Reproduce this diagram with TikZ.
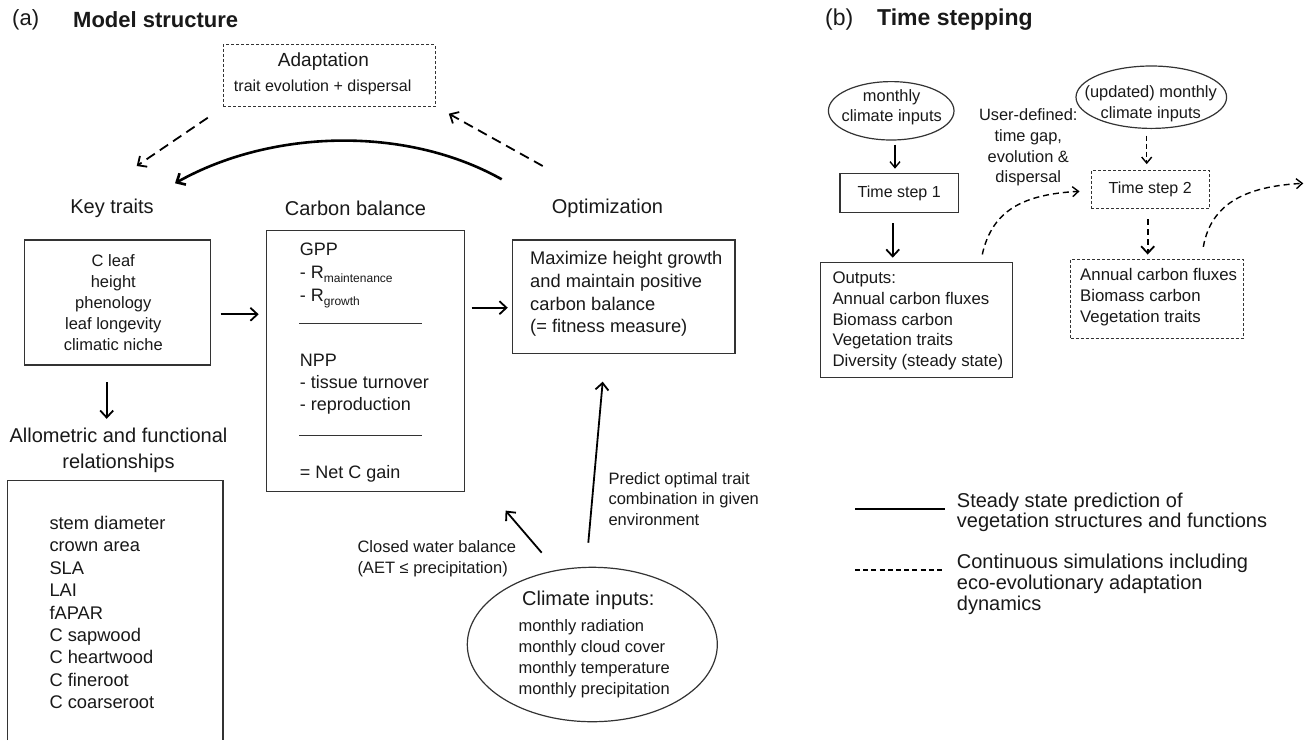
\documentclass[tikz,border=0pt]{standalone}
\usepackage{fontspec}
\setmainfont{Liberation Sans}
\usetikzlibrary{arrows.meta,calc,shapes.geometric}
\newcommand\fz[2]{\fontsize{#1}{#2}\selectfont}
\begin{document}
\begin{tikzpicture}[x=1pt,y=-1pt,
  txt/.style={inner sep=0pt, text=black!90},
  box/.style={draw=black!80, line width=1.2pt, inner sep=0pt, text=black!90},
  dbox/.style={box, line width=1pt, dash pattern=on 3pt off 2pt},
  arr/.style={-{Straight Barb[length=7pt,width=13pt]}, line width=1.8pt},
  darr/.style={arr, dash pattern=on 10pt off 6pt},
  sarr/.style={-{Straight Barb[length=6pt,width=10pt]}, line width=1.4pt},
  sdarr/.style={sarr, dash pattern=on 6pt off 4pt},
  oval/.style={ellipse, draw=black!80, line width=1.2pt, inner sep=0pt},
]
\useasboundingbox[fill=white] (0,0) rectangle (1306,740);

% headers
\node[txt, anchor=west, font=\fz{22}{26}] (hA) at (12,20) {(a)};
\node[txt, anchor=west, font=\fz{22}{26}\bfseries] (hAt) at (73,20) {Model structure};
\node[txt, anchor=west, font=\fz{23}{27}] (hB) at (825,20) {(b)};
\node[txt, anchor=west, font=\fz{23}{27}\bfseries] (hBt) at (877,20) {Time stepping};

% adaptation
\node[dbox, minimum width=212pt, minimum height=62pt] (adapt) at (329,75.6) {};
\node[txt, font=\fz{19}{23}] (adaptT) at (323.4,61.3) {Adaptation};
\node[txt, font=\fz{16}{20}] (adaptS) at (322.7,87.5) {trait evolution + dispersal};

% column labels
\node[txt, font=\fz{20}{24}] (kt) at (112,208.3) {Key traits};
\node[txt, font=\fz{20}{24}] (cbl) at (355.5,208) {Carbon balance};
\node[txt, font=\fz{20}{24}] (optl) at (607.5,208.3) {Optimization};

% top arrows
\draw[darr] ($(adapt.south west)+(-14.7,10.6)$) -- ($(kt)+(24.7,-42.3)$);
\draw[arr, line width=2.6pt] ($(optl)+(-105.8,-29)$) .. controls +(-96,-54) and +(96,-54) .. ($(kt)+(63,-25)$);
\draw[darr] ($(optl)+(-64.8,-42.3)$) -- ($(adapt.south east)+(13.3,6.6)$);

% key traits box
\node[box, minimum width=186.4pt, minimum height=125pt] (ktb) at (117.5,302.5) {};
\node[txt, align=center, font=\fz{16.5}{20.8}] (ktt) at (113.3,302.5) {C leaf\\height\\phenology\\leaf longevity\\climatic niche};

% carbon balance box
\node[box, minimum width=197.6pt, minimum height=261pt] (cbb) at (365.5,361.2) {};
\node[txt, align=left, anchor=west, font=\fz{18}{23}] (cbA) at (299.7,272.5) {GPP\\- R\smash{\raisebox{-4pt}{\fz{12}{12}maintenance}}\\- R\smash{\raisebox{-4pt}{\fz{12}{12}growth}}};
\draw[draw=black!80, line width=1pt] ($(cbb.north west)+(33,93.3)$) -- +(123,0);
\node[txt, align=left, anchor=west, font=\fz{18}{22}] (cbB) at (299.7,384) {NPP\\- tissue turnover\\- reproduction};
\draw[draw=black!80, line width=1pt] ($(cbb.north west)+(33,205.3)$) -- +(123,0);
\node[txt, anchor=west, font=\fz{18}{22}] (cbC) at (299.7,473.5) {= Net C gain};

% optimization box
\node[box, minimum width=222.7pt, minimum height=113.3pt] (optb) at (623.7,296.7) {};
\node[txt, align=left, anchor=west, font=\fz{18.3}{22.6}] (optt) at (530,294) {Maximize height growth\\and maintain positive\\carbon balance\\(= fitness measure)};

% horizontal arrows
\draw[arr, shorten <=9.3pt, shorten >=7.4pt] ([yshift=-11.8pt]ktb.east) -- ([yshift=46.9pt]cbb.west);
\draw[arr, shorten <=6.7pt, shorten >=4pt] ([yshift=53.5pt]cbb.east) -- ([yshift=-11pt]optb.west);

% allometric
\node[txt, align=center, font=\fz{20}{25.7}] (allol) at (118.5,450.5) {Allometric and functional\\relationships};
\draw[arr, shorten <=16.7pt, shorten >=9.3pt] ([xshift=-10.8pt]ktb.south) -- ([xshift=-11.8pt]allol.north);
\node[inner sep=0pt, minimum width=215.4pt, minimum height=259.3pt] (allob) at (115,610.35) {};
\draw[draw=black!80, line width=1.2pt] (allob.south west) -- (allob.north west) -- (allob.north east) -- (allob.south east);
\node[txt, align=left, anchor=west, font=\fz{18.3}{22.45}] (allot) at (49.3,612.5) {stem diameter\\crown area\\SLA\\LAI\\fAPAR\\C sapwood\\C heartwood\\C fineroot\\C coarseroot};

% climate inputs
\node[oval, minimum width=250pt, minimum height=154.4pt] (clim) at (592.3,644.5) {};
\node[txt, font=\fz{20}{24}] (climT) at (588.3,600.5) {Climate inputs:};
\node[txt, align=left, anchor=west, font=\fz{16.5}{21}] (climL) at (518.3,659) {monthly radiation\\monthly cloud cover\\monthly temperature\\monthly precipitation};
\node[txt, align=left, anchor=west, font=\fz{16.5}{21.3}] (wlab) at (357.3,558.7) {Closed water balance\\(AET ≤ precipitation)};
\node[txt, align=left, anchor=west, font=\fz{16.5}{20.5}] (plab) at (608.3,499) {Predict optimal trait\\combination in given\\environment};
\draw[arr] ($(clim.north)+(-50.6,-14)$) -- ($(cbb.south east)+(40.7,18.3)$);
\draw[arr] ($(clim.north)+(-4,-24)$) -- ($(optb.south)+(-21,27.7)$);

% time stepping
\node[oval, minimum width=125.6pt, minimum height=58.4pt] (e1) at (891.2,110.8) {};
\node[txt, align=center, font=\fz{16.4}{20.7}] (e1t) at (891.7,107.4) {monthly\\climate inputs};
\node[box, minimum width=118.3pt, minimum height=39.4pt, font=\fz{16}{20}] (ts1) at (899.2,193) {Time step 1};
\draw[sarr, shorten <=4pt, shorten >=4pt] ([xshift=3.8pt]e1.south) -- ([xshift=-4.2pt]ts1.north);
\node[box, minimum width=191.6pt, minimum height=115pt] (out1) at (916.5,319.8) {};
\node[txt, align=left, anchor=west, font=\fz{16.8}{20.85}] (out1t) at (832.3,321) {Outputs:\\Annual carbon fluxes\\Biomass carbon\\Vegetation traits\\Diversity (steady state)};
\draw[arr, shorten <=10pt, shorten >=4pt] ([xshift=-6.5pt]ts1.south) -- ([xshift=-23.8pt]out1.north);

\node[txt, align=center, font=\fz{16.4}{20.8}] (udl) at (1028.3,147.5) {User-defined:\\time gap,\\evolution \&\\dispersal};
\node[oval, minimum width=150.6pt, minimum height=62.4pt] (e2) at (1151.3,97.2) {};
\node[txt, align=center, font=\fz{16.4}{21}] (e2t) at (1150.7,104.2) {(updated) monthly\\climate inputs};
\node[dbox, minimum width=118.3pt, minimum height=38.3pt, font=\fz{16}{20}] (ts2) at (1150.2,189.8) {Time step 2};
\draw[sdarr, dash pattern=on 5pt off 3pt, shorten <=6.6pt, shorten >=6pt] ([xshift=-4.6pt]e2.south) -- ([xshift=-3.5pt]ts2.north);
\node[dbox, minimum width=172.6pt, minimum height=79.3pt] (out2) at (1157,298.7) {};
\node[txt, align=left, anchor=west, font=\fz{16.8}{20.85}] (out2t) at (1080,297) {Annual carbon fluxes\\Biomass carbon\\Vegetation traits};
\draw[arr, dash pattern=on 6pt off 4pt, shorten <=10pt, shorten >=4pt] ([xshift=-2.5pt]ts2.south) -- ([xshift=-9.3pt]out2.north);

\draw[sdarr] ($(out1.north east)+(-30.6,-7.3)$) .. controls +(10,-45) and +(-55,3) .. ($(ts2.west)+(-11,1.5)$);
\coordinate (nxt) at (1303.3,183.3);
\draw[sdarr] ($(out2.north)+(46.3,-11.7)$) .. controls +(8,-45) and +(-55,3) .. (nxt);

% legend
\coordinate (lsA) at (855,509);
\coordinate (lsB) at (945,509);
\draw[line width=1.6pt] (lsA) -- (lsB);
\node[txt, align=left, anchor=west, font=\fz{20}{20.7}] (leg1) at (956.7,512.3) {Steady state prediction of\\vegetation structures and functions};
\coordinate (ldA) at (855,570);
\coordinate (ldB) at (945,570);
\draw[line width=1.2pt, dash pattern=on 5pt off 3.2pt] (ldA) -- (ldB);
\node[txt, align=left, anchor=west, font=\fz{20}{21.2}] (leg2) at (956.7,584.2) {Continuous simulations including\\eco-evolutionary adaptation\\dynamics};
\end{tikzpicture}
\end{document}
